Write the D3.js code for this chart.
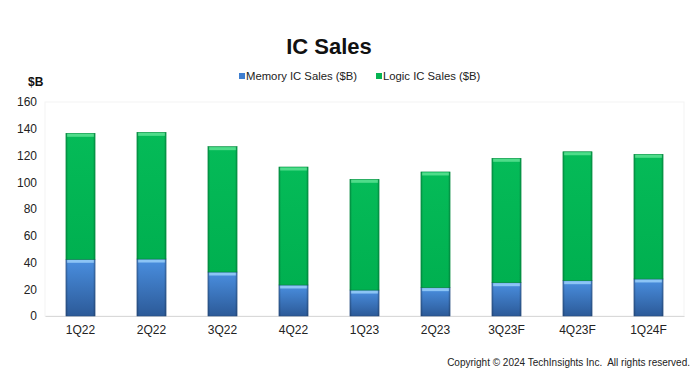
<!DOCTYPE html>
<html>
<head>
<meta charset="utf-8">
<script src="https://cdn.jsdelivr.net/npm/d3@7"></script>
<style>
  body { margin: 0; background: #fff; }
  svg { font-family: 'Liberation Sans', Arial, sans-serif; }
</style>
</head>
<body>
<div id="chart"></div>
<script>
// ----------- DATA ------------
const quarters = ['1Q22', '2Q22', '3Q22', '4Q22', '1Q23', '2Q23', '3Q23F', '4Q23F', '1Q24F'];
const memorySales = [42.4, 42.6, 32.9, 23.2, 19.4, 21.2, 24.9, 26.4, 27.7];
const logicSales = [94.2, 94.7, 93.7, 88.2, 82.8, 86.5, 93.0, 96.4, 93.2];
const yTicks = [0, 20, 40, 60, 80, 100, 120, 140, 160];

const width = 700, height = 382;
const margin = { top: 102, right: 16, bottom: 66, left: 45 };
const contentWidth = width - margin.left - margin.right;
const contentHeight = height - margin.top - margin.bottom;

const svg = d3.select('#chart').append('svg')
  .attr('width', width)
  .attr('height', height);

// ----------- GRADIENTS ------------
const defs = svg.append('defs');
function barGradient(id, stops, horizontal) {
  const gr = defs.append('linearGradient').attr('id', id)
    .attr('x1', 0).attr('y1', 0)
    .attr('x2', horizontal ? 1 : 0).attr('y2', horizontal ? 0 : 1);
  stops.forEach(s => gr.append('stop').attr('offset', s[0]).attr('stop-color', s[1]).attr('stop-opacity', s[2] === undefined ? 1 : s[2]));
}
barGradient('memGrad', [['0%', '#4a8fe0'], ['100%', '#2c5a98']]);
barGradient('logicGrad', [['0%', '#05bb58'], ['100%', '#00b050']]);
barGradient('edgeGrad', [['0%', '#000', 0.18], ['8%', '#000', 0], ['92%', '#000', 0], ['100%', '#000', 0.18]], true);

// ----------- SCALES ------------
const x = d3.scaleBand().domain(quarters).range([0, contentWidth]).paddingInner(0.59).paddingOuter(0.295);
const y = d3.scaleLinear().domain([0, 160]).range([contentHeight, 0]);

const g = svg.append('g').attr('transform', `translate(${margin.left}, ${margin.top})`);

// faint plot border
g.append('rect')
  .attr('x', 0).attr('y', 0)
  .attr('width', contentWidth).attr('height', contentHeight)
  .attr('fill', 'none').attr('stroke', '#f3f3f3');

// ----------- AXES ------------
const yAxis = g.append('g')
  .call(d3.axisLeft(y).tickValues(yTicks).tickSize(0).tickPadding(8));
yAxis.select('.domain').remove();
yAxis.selectAll('text').attr('font-size', 12).attr('fill', '#222').attr('font-family', 'Liberation Sans, Arial, sans-serif');

const xAxis = g.append('g')
  .attr('transform', `translate(0, ${contentHeight})`)
  .call(d3.axisBottom(x).tickSize(0).tickPadding(9));
xAxis.select('.domain').attr('stroke', '#d9d9d9');
xAxis.selectAll('text').attr('font-size', 12).attr('fill', '#222').attr('font-family', 'Liberation Sans, Arial, sans-serif');

// ----------- BARS ------------
const stacked = quarters.map((q, i) => ({ q: q, mem: memorySales[i], logic: logicSales[i] }));

const bars = g.selectAll('.bar').data(stacked).enter().append('g').attr('class', 'bar');

// memory
bars.append('rect')
  .attr('x', d => x(d.q))
  .attr('y', d => y(d.mem))
  .attr('width', x.bandwidth())
  .attr('height', d => y(0) - y(d.mem))
  .attr('fill', 'url(#memGrad)')
  .attr('stroke', '#2b4f80').attr('stroke-width', 0.6);
bars.append('rect')
  .attr('x', d => x(d.q) + 1)
  .attr('y', d => y(d.mem) + 0.5)
  .attr('width', x.bandwidth() - 2)
  .attr('height', 3)
  .attr('fill', '#8cc4f5');

// logic
bars.append('rect')
  .attr('x', d => x(d.q))
  .attr('y', d => y(d.mem + d.logic))
  .attr('width', x.bandwidth())
  .attr('height', d => y(d.mem) - y(d.mem + d.logic))
  .attr('fill', 'url(#logicGrad)')
  .attr('stroke', '#078a3e').attr('stroke-width', 0.6);
bars.append('rect')
  .attr('x', d => x(d.q) + 1)
  .attr('y', d => y(d.mem + d.logic) + 0.5)
  .attr('width', x.bandwidth() - 2)
  .attr('height', 3)
  .attr('fill', '#4fdc8a');

// bevel on the sides
bars.append('rect')
  .attr('x', d => x(d.q))
  .attr('y', d => y(d.mem + d.logic))
  .attr('width', x.bandwidth())
  .attr('height', d => y(0) - y(d.mem + d.logic))
  .attr('fill', 'url(#edgeGrad)');

// ----------- TITLE / LABELS ------------
svg.append('text')
  .attr('x', 329).attr('y', 54)
  .attr('text-anchor', 'middle')
  .attr('font-size', 22).attr('font-weight', 'bold')
  .attr('fill', '#111')
  .text('IC Sales');

svg.append('text')
  .attr('x', 28).attr('y', 86)
  .attr('font-size', 12).attr('font-weight', 'bold')
  .attr('fill', '#111')
  .text('$B');

// legend
const legend = [
  { label: 'Memory IC Sales ($B)', color: '#3f7fd0', x: 239 },
  { label: 'Logic IC Sales ($B)', color: '#06b452', x: 376 },
];
const lg = svg.selectAll('.legend').data(legend).enter().append('g').attr('class', 'legend');
lg.append('rect')
  .attr('x', d => d.x).attr('y', 73)
  .attr('width', 6).attr('height', 6)
  .attr('fill', d => d.color);
lg.append('text')
  .attr('x', d => d.x + 7).attr('y', 80)
  .attr('font-size', 11.3).attr('fill', '#222')
  .text(d => d.label);

svg.append('text')
  .attr('x', 690).attr('y', 366)
  .attr('text-anchor', 'end')
  .attr('font-size', 10).attr('fill', '#222')
  .attr('xml:space', 'preserve')
  .text('Copyright \u00A9 2024 TechInsights Inc.  All rights reserved.');
</script>
</body>
</html>
